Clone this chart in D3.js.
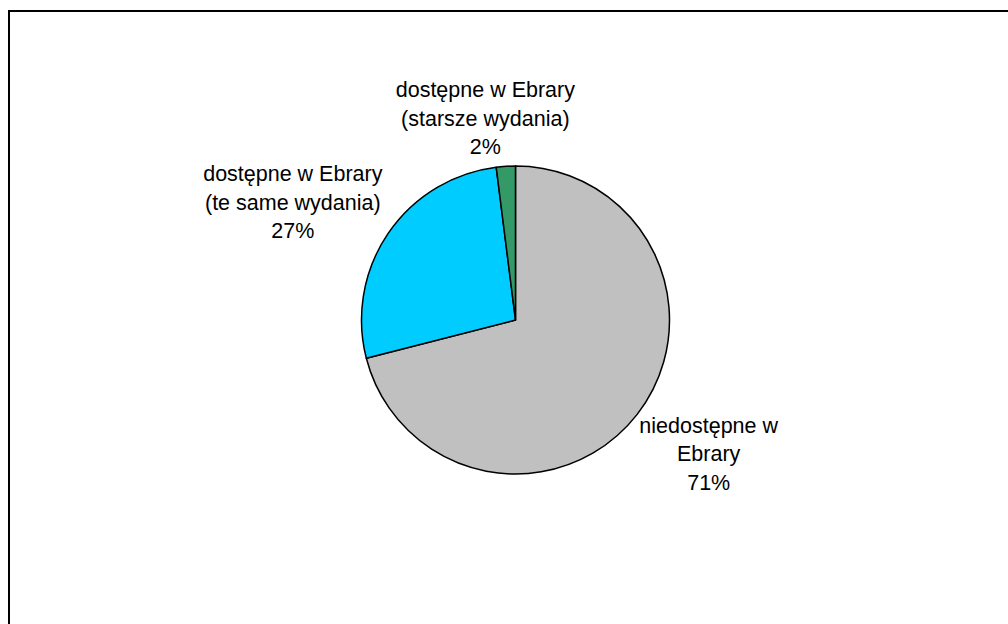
<!DOCTYPE html>
<html>
<head>
<meta charset="utf-8">
<script src="https://cdn.jsdelivr.net/npm/d3@7"></script>
<style>
  html, body { margin: 0; padding: 0; background: #fff; }
  svg { display: block; }
</style>
</head>
<body>
<svg id="chart" width="1008" height="624"></svg>
<script>
// Data
const categories = [
  ["niedostępne w", "Ebrary"],
  ["dostępne w Ebrary", "(te same wydania)"],
  ["dostępne w Ebrary", "(starsze wydania)"]
];
const values = [71, 27, 2];
const percentLabels = ["71%", "27%", "2%"];
const colors = ["#C0C0C0", "#00CCFF", "#339966"];

// Layout
const W = 1008, H = 624;
const cx = 515.5, cy = 320, R = 154;
const labelRadius = [235, 252, 204];
const labelAngleShift = [-3.1, -6.3, -4.9]; // degrees
const fontSize = 21.5, lineH = 28.5;

const svg = d3.select("#chart");

// Frame
svg.append("rect")
  .attr("x", 9).attr("y", 11)
  .attr("width", 1200).attr("height", 800)
  .attr("fill", "none").attr("stroke", "#000").attr("stroke-width", 2);

const pie = d3.pie().sort(null).value(d => d).startAngle(0).endAngle(2 * Math.PI);
const arcs = pie(values);
const arc = d3.arc().innerRadius(0).outerRadius(R);

const g = svg.append("g").attr("transform", `translate(${cx},${cy})`);
g.selectAll("path.slice")
  .data(arcs)
  .join("path")
  .attr("class", "slice")
  .attr("d", arc)
  .attr("fill", (d, i) => colors[i])
  .attr("stroke", "#000")
  .attr("stroke-width", 1.5)
  .attr("stroke-linejoin", "round");

g.selectAll("text.lbl")
  .data(arcs)
  .join("text")
  .attr("class", "lbl")
  .attr("font-family", "'Liberation Sans', Arial, sans-serif")
  .attr("font-size", fontSize)
  .attr("fill", "#000")
  .attr("text-anchor", "middle")
  .each(function(d, i) {
    const mid = (d.startAngle + d.endAngle) / 2 + labelAngleShift[i] * Math.PI / 180;
    const x = labelRadius[i] * Math.sin(mid);
    const y = -labelRadius[i] * Math.cos(mid);
    const lines = categories[i].concat([percentLabels[i]]);
    const n = lines.length;
    const capH = fontSize * 0.716;
    const blockH = (n - 1) * lineH + capH;
    const firstBaseline = y - blockH / 2 + capH;
    const t = d3.select(this);
    lines.forEach((ln, k) => {
      t.append("tspan")
        .attr("x", x)
        .attr("y", firstBaseline + k * lineH)
        .text(ln);
    });
  });
</script>
</body>
</html>
